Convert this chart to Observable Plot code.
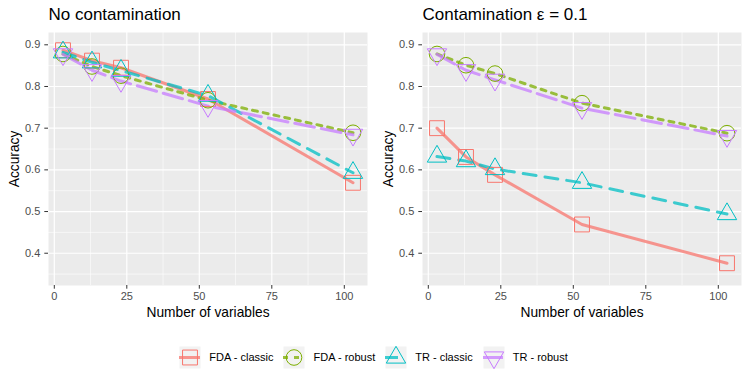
<!DOCTYPE html>
<html><head><meta charset="utf-8">
<script src="https://cdn.jsdelivr.net/npm/d3@7"></script>
<script src="https://cdn.jsdelivr.net/npm/@observablehq/plot@0.6"></script>
<style>
body{margin:0;background:#fff;}
#root{position:relative;width:747px;height:374px;font-family:"Liberation Sans",Arial,sans-serif;background:#fff;overflow:hidden;}
#panels{display:flex;}
#legend{position:absolute;left:0;top:345px;width:747px;height:23px;display:flex;justify-content:center;align-items:center;font-size:11px;color:#000;}
.item{display:flex;align-items:center;margin:0 5px;}
.item span{margin-left:9px;white-space:nowrap;}
.item svg{display:block;}
</style></head><body><div id="root"><div id="panels"></div><div id="legend"></div></div>
<script>
// ---- data ----
const variables = [3, 13, 23, 53, 103];
const seriesNames = ["FDA - classic", "FDA - robust", "TR - classic", "TR - robust"];
const panelTitles = ["No contamination", "Contamination \u03b5 = 0.1"];
const xTicks = [0, 25, 50, 75, 100];
const yTicks = [0.4, 0.5, 0.6, 0.7, 0.8, 0.9];

// No contamination
const noFdaClassic = [0.887, 0.862, 0.845, 0.770, 0.569];
const noFdaRobust  = [0.878, 0.848, 0.826, 0.767, 0.689];
const noTrClassic  = [0.882, 0.858, 0.838, 0.778, 0.593];
const noTrRobust   = [0.877, 0.839, 0.813, 0.753, 0.684];
// Contamination eps = 0.1
const ctFdaClassic = [0.700, 0.631, 0.588, 0.469, 0.376];
const ctFdaRobust  = [0.878, 0.851, 0.831, 0.760, 0.688];
const ctTrClassic  = [0.632, 0.621, 0.602, 0.569, 0.494];
const ctTrRobust   = [0.877, 0.839, 0.816, 0.748, 0.681];

// ---- styles ----
const colors = ["#F8766D", "#7CAE00", "#00BFC4", "#C77CFF"];
const dashes = [null, "5,6", "13,9", "20,7"];
const symbols = ["square", "circle", "triangle", "triangle"];
const rotations = [0, 0, 0, 180];
const radii = [8.4, 7.8, 7.2, 7.2];
const minorX = [12.5, 37.5, 62.5, 87.5];
const minorY = [0.35, 0.45, 0.55, 0.65, 0.75, 0.85];

function rows(list) {
  return seriesNames.flatMap((s, i) => variables.map((v, j) => ({series: s, variables: v, accuracy: list[i][j]})));
}

function panel(title, data, width, marginRight) {
  const lines = seriesNames.map((s, i) => Plot.line(data.filter(d => d.series === s), {
    x: "variables", y: "accuracy", stroke: "series", strokeWidth: 3, strokeOpacity: 0.75,
    strokeDasharray: dashes[i] || undefined
  }));
  const dots = seriesNames.map((s, i) => Plot.dot(data.filter(d => d.series === s), {
    x: "variables", y: "accuracy", stroke: "series", fill: "none", strokeWidth: 1,
    symbol: symbols[i], r: radii[i], rotate: rotations[i]
  }));
  return Plot.plot({
    width, height: 330, marginLeft: 48, marginRight, marginTop: 32, marginBottom: 45,
    x: {domain: [-2, 108]},
    y: {domain: [0.3226, 0.9295]},
    color: {domain: seriesNames, range: colors},
    style: {fontFamily: "'Liberation Sans', Arial, sans-serif", fontSize: "11px", background: "white", overflow: "visible"},
    marks: [
      Plot.frame({fill: "#ebebeb", stroke: "none"}),
      Plot.gridX(minorX, {stroke: "white", strokeOpacity: 1, strokeWidth: 0.6}),
      Plot.gridY(minorY, {stroke: "white", strokeOpacity: 1, strokeWidth: 0.6}),
      Plot.gridX(xTicks, {stroke: "white", strokeOpacity: 1, strokeWidth: 1.2}),
      Plot.gridY(yTicks, {stroke: "white", strokeOpacity: 1, strokeWidth: 1.2}),
      Plot.axisX(xTicks, {tickSize: 3.7, tickPadding: 3, label: null, stroke: "#333333", fill: "#4d4d4d"}),
      Plot.axisY(yTicks, {tickSize: 3.7, tickPadding: 4.5, label: null, tickFormat: d3.format(".1f"), stroke: "#333333", fill: "#4d4d4d"}),
      ...lines,
      ...dots,
      Plot.text([title], {text: d => d, frameAnchor: "top-left", dy: -17.5, fontSize: 17, textAnchor: "start", lineAnchor: "middle", fill: "black"}),
      Plot.text(["Accuracy"], {text: d => d, frameAnchor: "left", dx: -34, rotate: -90, fontSize: 13.75, textAnchor: "middle", lineAnchor: "middle", fill: "black"}),
      Plot.text(["Number of variables"], {text: d => d, frameAnchor: "bottom", dy: 27.5, fontSize: 13.75, textAnchor: "middle", lineAnchor: "middle", fill: "black"})
    ]
  });
}

const panels = document.getElementById("panels");
panels.append(panel(panelTitles[0], rows([noFdaClassic, noFdaRobust, noTrClassic, noTrRobust]), 374, 7));
panels.append(panel(panelTitles[1], rows([ctFdaClassic, ctFdaRobust, ctTrClassic, ctTrRobust]), 373, 6));

// ---- legend ----
const legend = document.getElementById("legend");
seriesNames.forEach((s, i) => {
  const item = document.createElement("div");
  item.className = "item";
  const key = Plot.plot({
    width: 21, height: 22, margin: 0,
    x: {domain: [0, 1], axis: null}, y: {domain: [0, 1], axis: null},
    style: {overflow: "visible", background: "transparent"},
    marks: [
      Plot.frame({fill: "#f2f2f2", stroke: "none"}),
      Plot.ruleY([0.5], {stroke: colors[i], strokeWidth: 3, strokeOpacity: 0.75, strokeDasharray: dashes[i] || undefined}),
      Plot.dot([[0.5, 0.5]], {stroke: colors[i], fill: "none", strokeWidth: 1, symbol: symbols[i], r: radii[i], rotate: rotations[i]})
    ]
  });
  item.append(key);
  const lab = document.createElement("span");
  lab.textContent = s;
  item.append(lab);
  legend.append(item);
});
</script>
</body></html>
